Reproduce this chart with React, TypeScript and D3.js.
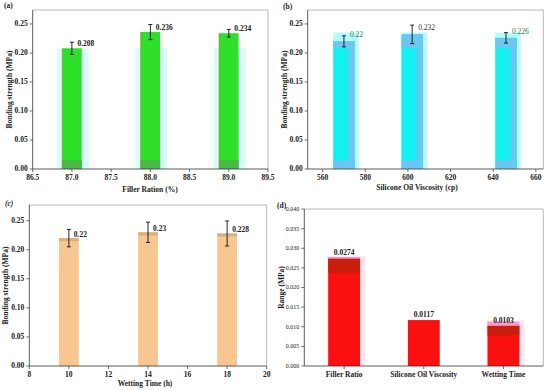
import React from "react";
import * as d3 from "d3";

// ---------- data ----------
const fillerRatio = [87.0, 88.0, 89.0];
const fillerStrength = [0.208, 0.236, 0.234];
const fillerError = [0.0105, 0.013, 0.0065];
const fillerTicks = [86.5, 87.0, 87.5, 88.0, 88.5, 89.0, 89.5];

const viscosity = [570, 602, 646];
const viscosityStrength = [0.22, 0.232, 0.226];
const viscosityError = [0.0095, 0.016, 0.009];
const viscosityTicks = [560, 580, 600, 620, 640, 660];

const wettingTime = [10, 14, 18];
const wettingStrength = [0.22, 0.23, 0.228];
const wettingError = [0.015, 0.0175, 0.0215];
const wettingTicks = [8, 10, 12, 14, 16, 18, 20];

const strengthTicks = [0, 0.05, 0.1, 0.15, 0.2, 0.25];

const rangeFactors = ["Filler Ratio", "Silicone Oil Viscosity", "Wetting Time"];
const rangeValues = [0.0274, 0.0117, 0.0103];
const rangeTicks = [0, 0.005, 0.01, 0.015, 0.02, 0.025, 0.03, 0.035, 0.04];

const FONT = "'Liberation Serif', 'Times New Roman', serif";

type Box = { left: number; right: number; top: number; bottom: number };

function FrameAxes({ box, yScale, yTicks, yFmt, yFont, yWeight }: any) {
  return (
    <g>
      <line x1={box.left} x2={box.right} y1={box.top} y2={box.top} stroke="#a8a8a8" strokeWidth={0.8} />
      <line x1={box.right} x2={box.right} y1={box.top} y2={box.bottom} stroke="#a8a8a8" strokeWidth={0.8} />
      <line x1={box.left} x2={box.left} y1={box.top} y2={box.bottom} stroke="#333" strokeWidth={0.8} />
      <line x1={box.left} x2={box.right} y1={box.bottom} y2={box.bottom} stroke="#333" strokeWidth={0.8} />
      {yTicks.map((t: number, i: number) => (
        <g key={i}>
          <line x1={box.left - 3} x2={box.left} y1={yScale(t)} y2={yScale(t)} stroke="#333" strokeWidth={0.7} />
          <text
            x={box.left - 5}
            y={yScale(t)}
            dy="0.33em"
            textAnchor="end"
            fontSize={yFont}
            fontWeight={yWeight}
            fill="#222"
          >
            {yFmt(t)}
          </text>
        </g>
      ))}
    </g>
  );
}

function XLinearAxis({ box, xScale, ticks, fmt }: any) {
  return (
    <g>
      {ticks.map((t: number, i: number) => (
        <g key={i}>
          <line x1={xScale(t)} x2={xScale(t)} y1={box.bottom} y2={box.bottom + 3} stroke="#333" strokeWidth={0.7} />
          <text x={xScale(t)} y={box.bottom + 11} textAnchor="middle" fontSize={7.5} fontWeight="bold" fill="#222">
            {fmt(t)}
          </text>
        </g>
      ))}
    </g>
  );
}

function ErrorBar({ x, y0, y1 }: { x: number; y0: number; y1: number }) {
  return (
    <g stroke="#111" strokeWidth={0.9}>
      <line x1={x} x2={x} y1={y0} y2={y1} />
      <line x1={x - 2} x2={x + 2} y1={y0} y2={y0} />
      <line x1={x - 2} x2={x + 2} y1={y1} y2={y1} />
    </g>
  );
}

function PanelA() {
  const box: Box = { left: 32.7, right: 268, top: 10, bottom: 169 };
  const x = d3.scaleLinear().domain([86.5, 89.5]).range([box.left, box.right]);
  const y = d3.scaleLinear().domain([0, 0.274]).range([box.bottom, box.top]);
  const w = 0.25;
  return (
    <g>
      {fillerRatio.map((c, i) => {
        const x0 = x(c - w / 2);
        const x1 = x(c + w / 2);
        return (
          <g key={i}>
            <rect x={x0 - 5} y={y(0.208)} width={x1 - x0 + 12} height={y(0) - y(0.208)} fill="#d8fbfb" />
            <rect x={x0} y={y(fillerStrength[i])} width={x1 - x0} height={y(0) - y(fillerStrength[i])} fill="#2ee02a" />
            <rect x={x0} y={y(0.015)} width={x1 - x0} height={y(0) - y(0.015)} fill="#48b846" />
            <line x1={x0} x2={x0} y1={y(fillerStrength[i])} y2={y(0)} stroke="#b58a3a" strokeWidth={0.6} />
          </g>
        );
      })}
      <FrameAxes box={box} yScale={y} yTicks={strengthTicks} yFmt={(t: number) => t.toFixed(2)} yFont={7.5} yWeight="bold" />
      <XLinearAxis box={box} xScale={x} ticks={fillerTicks} fmt={(t: number) => t.toFixed(1)} />
      {fillerRatio.map((c, i) => (
        <g key={i}>
          <ErrorBar x={x(c)} y0={y(fillerStrength[i] + fillerError[i])} y1={y(fillerStrength[i] - fillerError[i])} />
          <text x={x(c) + 5.5} y={y(fillerStrength[i]) - 2} fontSize={7.5} fontWeight="bold" fill="#222">
            {String(fillerStrength[i])}
          </text>
        </g>
      ))}
      <text x={4} y={8} fontSize={7.5} fontWeight="bold" fill="#222">(a)</text>
      <text transform={`translate(12,${(box.top + box.bottom) / 2}) rotate(-90)`} textAnchor="middle" fontSize={7.5} fontWeight="bold" fill="#222">
        Bonding strength (MPa)
      </text>
      <text x={150} y={192} textAnchor="middle" fontSize={7.5} fontWeight="bold" fill="#222">Filler Ration (%)</text>
    </g>
  );
}

function PanelB() {
  const box: Box = { left: 307.7, right: 543.3, top: 10, bottom: 169 };
  const x = d3.scaleLinear().domain([553, 663.5]).range([box.left, box.right]);
  const y = d3.scaleLinear().domain([0, 0.274]).range([box.bottom, box.top]);
  const w = 10;
  const labelColors = ["#1f7a55", "#333", "#1f7a55"];
  return (
    <g>
      {viscosity.map((c, i) => {
        const x0 = x(c - w / 2);
        const x1 = x(c + w / 2);
        return (
          <g key={i}>
            <rect x={x0} y={y(0.235)} width={x1 - x0 + 4} height={y(0) - y(0.235)} fill="#b4fbfb" />
            <rect x={x0} y={y(viscosityStrength[i])} width={x1 - x0} height={y(0) - y(viscosityStrength[i])} fill="#14efef" />
            <rect x={x0} y={y(viscosityStrength[i])} width={x1 - x0} height={y(viscosityStrength[i]) > y(0.209) ? 0 : y(0.209) - y(viscosityStrength[i])} fill="#6cc6f2" />
            <rect x={x1 - 6} y={y(viscosityStrength[i])} width={6} height={y(0) - y(viscosityStrength[i])} fill="#6cc6f2" />
            <rect x={x0} y={y(0.015)} width={x1 - x0} height={y(0) - y(0.015)} fill="#6cc6f2" />
          </g>
        );
      })}
      <FrameAxes box={box} yScale={y} yTicks={strengthTicks} yFmt={(t: number) => t.toFixed(2)} yFont={7.5} yWeight="bold" />
      <XLinearAxis box={box} xScale={x} ticks={viscosityTicks} fmt={(t: number) => String(t)} />
      {viscosity.map((c, i) => (
        <g key={i}>
          <ErrorBar x={x(c)} y0={y(viscosityStrength[i] + viscosityError[i])} y1={y(viscosityStrength[i] - viscosityError[i])} />
          <text x={x(c) + 6} y={y(viscosityStrength[i]) - 4} fontSize={7.5} fill={labelColors[i]}>
            {String(viscosityStrength[i])}
          </text>
        </g>
      ))}
      <text x={283} y={9} fontSize={7.5} fontWeight="bold" fill="#222">(b)</text>
      <text transform={`translate(287,${(box.top + box.bottom) / 2}) rotate(-90)`} textAnchor="middle" fontSize={7.5} fontWeight="bold" fill="#222">
        Bonding strength (MPa)
      </text>
      <text x={417} y={190} textAnchor="middle" fontSize={7.5} fontWeight="bold" fill="#222">Silicone Oil Viscosity (cp)</text>
    </g>
  );
}

function PanelC() {
  const box: Box = { left: 29.3, right: 266.7, top: 205, bottom: 366 };
  const x = d3.scaleLinear().domain([8, 20]).range([box.left, box.right]);
  const y = d3.scaleLinear().domain([0, 0.277]).range([box.bottom, box.top]);
  const w = 1.0;
  return (
    <g>
      {wettingTime.map((c, i) => {
        const x0 = x(c - w / 2);
        const x1 = x(c + w / 2);
        return (
          <g key={i}>
            <rect x={x0} y={y(wettingStrength[i])} width={x1 - x0} height={y(0) - y(wettingStrength[i])} fill="#f8c690" />
            <rect x={x0} y={y(wettingStrength[i])} width={x1 - x0} height={3} fill="#d6b07e" />
          </g>
        );
      })}
      <FrameAxes box={box} yScale={y} yTicks={strengthTicks} yFmt={(t: number) => t.toFixed(2)} yFont={7.5} yWeight="bold" />
      <XLinearAxis box={box} xScale={x} ticks={wettingTicks} fmt={(t: number) => String(t)} />
      {wettingTime.map((c, i) => (
        <g key={i}>
          <ErrorBar x={x(c)} y0={y(wettingStrength[i] + wettingError[i])} y1={y(wettingStrength[i] - wettingError[i])} />
          <text x={x(c) + 5} y={y(wettingStrength[i]) - 1.5} fontSize={7.5} fontWeight="bold" fill="#222">
            {String(wettingStrength[i])}
          </text>
        </g>
      ))}
      <text x={5} y={206} fontSize={7.5} fontWeight="bold" fontStyle="italic" fill="#222">(c)</text>
      <text transform={`translate(8,${(box.top + box.bottom) / 2}) rotate(-90)`} textAnchor="middle" fontSize={7.5} fontWeight="bold" fill="#222">
        Bonding strength (MPa)
      </text>
      <text x={145} y={386} textAnchor="middle" fontSize={7.5} fontWeight="bold" fill="#222">Wetting Time (h)</text>
    </g>
  );
}

function PanelD() {
  const box: Box = { left: 304.3, right: 543.3, top: 209, bottom: 366 };
  const x = d3.scaleBand<string>().domain(rangeFactors).range([box.left, box.right]).padding(0);
  const y = d3.scaleLinear().domain([0, 0.04]).range([box.bottom, box.top]);
  const bw = x.bandwidth() * 0.4;
  const darkTop = [0.0238, null, 0.0078];
  return (
    <g>
      {rangeFactors.map((f, i) => {
        const cx = (x(f) as number) + x.bandwidth() / 2;
        const x0 = cx - bw / 2;
        const v = rangeValues[i];
        const d = darkTop[i];
        return (
          <g key={i}>
            {i !== 1 && (
              <rect x={x0 - 1} y={y(v) - (i === 2 ? 5 : 2)} width={bw + 6} height={y(0) - y(v) + (i === 2 ? 5 : 2)} fill="#fde3f2" />
            )}
            <rect x={x0} y={y(v)} width={bw} height={y(0) - y(v)} fill="#fb1010" />
            {d !== null && <rect x={x0} y={y(v)} width={bw} height={y(d) - y(v)} fill="#c81e0c" />}
            {i === 2 && <rect x={x0} y={y(v) - 4} width={bw} height={4} fill="#ff9ad0" />}
            {i === 0 && <rect x={x0} y={y(v) - 1.5} width={bw} height={1.5} fill="#ff9ad0" />}
          </g>
        );
      })}
      <FrameAxes box={box} yScale={y} yTicks={rangeTicks} yFmt={(t: number) => t.toFixed(3)} yFont={6} yWeight="normal" />
      {rangeFactors.map((f, i) => {
        const cx = (x(f) as number) + x.bandwidth() / 2;
        return (
          <g key={i}>
            <line x1={cx} x2={cx} y1={box.bottom} y2={box.bottom + 3} stroke="#333" strokeWidth={0.7} />
            <text x={cx} y={box.bottom + 11} textAnchor="middle" fontSize={7.5} fontWeight="bold" fill="#222">{f}</text>
            <text x={cx} y={y(rangeValues[i]) - 3} textAnchor="middle" fontSize={7.5} fontWeight="bold" fill="#222">
              {String(rangeValues[i])}
            </text>
          </g>
        );
      })}
      <text x={277} y={208} fontSize={7.5} fontWeight="bold" fill="#222">(d)</text>
      <text transform={`translate(284,${(box.top + box.bottom) / 2}) rotate(-90)`} textAnchor="middle" fontSize={7.5} fontWeight="bold" fill="#222">
        Range (MPa)
      </text>
    </g>
  );
}

export default function App() {
  return (
    <svg
      width={550}
      height={390}
      viewBox="0 0 550 390"
      style={{ position: "absolute", left: 0, top: 0, display: "block", background: "#fff" }}
      fontFamily={FONT}
    >
      <rect x={0} y={0} width={550} height={390} fill="#fff" />
      <PanelA />
      <PanelB />
      <PanelC />
      <PanelD />
    </svg>
  );
}
